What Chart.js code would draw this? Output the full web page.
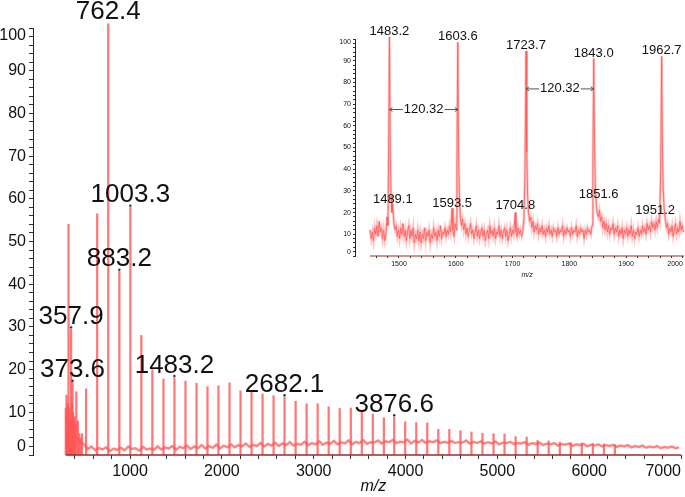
<!DOCTYPE html>
<html>
<head>
<meta charset="utf-8">
<script src="https://cdn.jsdelivr.net/npm/chart.js@4.4.1/dist/chart.umd.min.js"></script>
<style>
  html, body { margin: 0; padding: 0; background: #fff; }
  #wrap { position: relative; width: 685px; height: 497px; }
  #main { position: absolute; left: 0; top: 0; }
  #inset { position: absolute; left: 330px; top: 20px; }
</style>
</head>
<body>
<div id="wrap">
  <canvas id="main" width="685" height="497"></canvas>
  <canvas id="inset" width="355" height="270"></canvas>
</div>
<script>
// ---- full spectrum (m/z 300 - 7000) ----
const mainPeakMz  = [300, 308, 316, 322, 330, 340, 348, 357.9, 366, 373.6, 380, 388, 396, 404, 415, 432, 446, 462, 476, 521,
  642, 762.4, 883.2, 1003.3, 1123, 1243, 1364, 1483.2, 1603.6, 1723.7, 1843, 1962.7, 2083, 2203, 2323, 2443, 2563,
  2682.1, 2803, 2923, 3043, 3163, 3283, 3404, 3524, 3644, 3764, 3876.6, 3996, 4117, 4237, 4357, 4477, 4598, 4718,
  4838, 4958, 5078, 5199, 5319, 5439, 5559, 5680, 5800, 5920, 6040, 6161, 6280];
const mainPeakInt = [11, 14, 9, 12, 54, 11, 8, 29.5, 12, 17, 10, 8, 9, 7, 14.8, 8, 5, 4, 5, 15.5,
  56.5, 101, 43, 58, 28, 20, 17.8, 18.1, 17.3, 16.8, 16, 16.2, 16.9, 15, 14.8, 14.3, 13.9,
  13.6, 12.6, 12, 12, 11.3, 10.9, 11, 10, 9.6, 8.7, 8.9, 7.8, 7.6, 7.5, 6, 6, 5.7, 5.4,
  5.1, 5, 4.9, 4.3, 4.2, 3.4, 3.3, 3, 2.9, 2.8, 2.7, 2.6, 2.4];

// baseline noise, sampled every 40 m/z from 300
const mainNoiseStart = 300, mainNoiseStep = 40;
const mainNoise = [9, 7, 5.5, 4, 3,
  2.5,1.4,2.0,1.1,1.6,1.3,1.8,0.9,1.5,1.2,
  1.7,1.1,2.0,1.4,1.6,1.0,1.9,1.3,1.5,1.2,
  2.0,1.3,1.8,1.5,2.1,1.2,1.9,1.6,2.2,1.4,
  2.0,1.6,2.3,1.5,2.1,1.7,2.4,1.5,2.2,1.8,
  2.5,1.8,2.3,2.0,2.7,1.9,2.4,2.1,2.8,2.0,
  2.6,2.2,2.9,2.1,2.7,2.3,3.0,2.2,2.6,2.4,
  3.1,2.3,2.8,2.5,3.2,2.4,2.9,2.6,3.3,2.5,
  3.0,2.7,3.4,2.5,3.1,2.8,3.5,2.6,3.0,2.9,
  3.4,2.7,3.2,3.0,3.5,2.8,3.1,3.0,3.6,2.7,
  3.3,2.9,3.5,2.8,3.2,3.0,3.4,2.8,3.1,2.9,
  3.3,2.8,3.0,2.9,3.4,2.7,3.1,2.8,3.2,2.7,
  3.0,2.7,3.2,2.5,2.9,2.8,3.1,2.6,2.8,2.7,
  3.0,2.4,2.8,2.6,2.9,2.3,2.7,2.5,2.8,2.2,
  2.6,2.4,2.7,2.1,2.5,2.3,2.6,2.0,2.4,2.2,
  2.5,2.0,2.3,2.1,2.4,1.9,2.2,2.0,2.3,1.8,
  2.1,1.9,2.2,1.7,2.0,1.8,2.1,1.6,1.9,1.7,
  2.0,1.6,1.8];

const mainLabelText = ['762.4', '1003.3', '883.2', '357.9', '373.6', '1483.2', '2682.1', '3876.6'];
const mainLabelMz   = [762.4, 1003.3, 883.2, 357.9, 373.6, 1483.2, 2682.1, 3876.6];
const mainLabelInt  = [101, 58, 43, 29.5, 17, 18.1, 13.6, 8.9];

const mainXTicks = []; for (let v = 400; v <= 7000; v += 200) mainXTicks.push(v);
const mainYTicks = []; for (let v = 0; v <= 100; v += 2) mainYTicks.push(v);

// ---- zoomed inset (m/z 1449 - 2001) ----
const insetSpectrum = [
  [1449,12],[1451,8],[1453,11],[1455,7],[1457,13],[1459,10],[1461,14],[1463,9],[1465,16],[1467,11],[1469,13],[1471,8],
  [1473,12],[1475,7],[1477,10],[1479,18],[1480.5,14],[1481.5,40],[1483.2,101],[1484.5,50],[1486,28],[1487.5,20],[1489,24],
  [1491,15],[1493,12],[1495,14],[1497,9],[1499,12],[1501,8],[1503,13],[1505,10],[1507,15],[1509,9],[1511,12],[1513,7],
  [1515,11],[1517,14],[1519,8],[1521,12],[1523,9],[1525,13],[1527,6],[1529,10],[1531,8],[1533,12],[1535,7],[1537,11],
  [1539,6],[1541,10],[1543,8],[1545,13],[1547,7],[1549,11],[1551,9],[1553,12],[1555,6],[1557,10],[1559,8],[1561,13],
  [1563,9],[1565,11],[1567,7],[1569,12],[1571,9],[1573,14],[1575,8],[1577,11],[1579,10],[1581,13],[1583,9],[1585,12],
  [1587,10],[1589,14],[1591,11],[1593.5,22],[1595,12],[1597,9],[1599,15],[1601,12],[1602,40],[1603.6,98.5],[1605,45],
  [1606.5,26],[1608,18],[1610,14],[1612,17],[1614,12],[1616,15],[1618,10],[1620,13],[1622,9],[1624,12],[1626,15],
  [1628,10],[1630,12],[1632,8],[1634,11],[1636,14],[1638,9],[1640,12],[1642,8],[1644,11],[1646,13],[1648,9],[1650,12],
  [1652,7],[1654,10],[1656,12],[1658,8],[1660,14],[1662,10],[1664,12],[1666,9],[1668,13],[1670,8],[1672,11],[1674,10],
  [1676,14],[1678,9],[1680,12],[1682,8],[1684,11],[1686,13],[1688,9],[1690,12],[1692,7],[1694,10],[1696,13],[1698,9],
  [1700,12],[1702,10],[1704.8,20],[1706,11],[1708,9],[1710,13],[1712,10],[1714,12],[1716,9],[1718,11],[1720,17],
  [1722,40],[1723.7,94.5],[1725,48],[1726.5,28],[1728,20],[1730,16],[1732,18],[1734,13],[1736,16],[1738,11],[1740,14],
  [1742,12],[1744,15],[1746,10],[1748,13],[1750,11],[1752,14],[1754,10],[1756,12],[1758,9],[1760,13],[1762,11],
  [1764,14],[1766,10],[1768,12],[1770,9],[1772,13],[1774,11],[1776,12],[1778,9],[1780,13],[1782,10],[1784,12],
  [1786,11],[1788,14],[1790,9],[1792,12],[1794,10],[1796,13],[1798,11],[1800,12],[1802,9],[1804,13],[1806,10],
  [1808,12],[1810,11],[1812,14],[1814,9],[1816,12],[1818,10],[1820,13],[1822,11],[1824,12],[1826,8],[1828,12],
  [1830,10],[1832,13],[1834,11],[1836,12],[1838,10],[1840,14],[1841.5,40],[1843,91],[1844.5,50],[1846,30],[1847.5,24],
  [1849,20],[1851,18],[1853,21],[1855,16],[1857,18],[1859,13],[1861,16],[1863,12],[1865,15],[1867,11],[1869,14],
  [1871,10],[1873,13],[1875,12],[1877,15],[1879,10],[1881,13],[1883,11],[1885,14],[1887,9],[1889,12],[1891,10],
  [1893,13],[1895,8],[1897,12],[1899,10],[1901,13],[1903,9],[1905,12],[1907,10],[1909,14],[1911,9],[1913,12],
  [1915,8],[1917,11],[1919,10],[1921,13],[1923,9],[1925,12],[1927,10],[1929,14],[1931,11],[1933,13],[1935,10],
  [1937,15],[1939,12],[1941,14],[1943,11],[1945,16],[1947,13],[1949,15],[1951,12],[1953,16],[1955,13],[1957,17],
  [1959,15],[1961,40],[1962.7,92],[1964,50],[1965.5,30],[1967,22],[1969,17],[1971,13],[1973,15],[1975,10],[1977,13],
  [1979,11],[1981,14],[1983,9],[1985,12],[1987,15],[1989,10],[1991,13],[1993,11],[1995,16],[1997,12],[1999,14],[2001,11]
];

const insetLabelText = ['1483.2', '1603.6', '1723.7', '1843.0', '1962.7', '1489.1', '1593.5', '1704.8', '1851.6', '1951.2'];
const insetLabelMz   = [1483.2, 1603.6, 1723.7, 1843.0, 1962.7, 1489.1, 1593.5, 1704.8, 1851.6, 1951.2];
const insetLabelInt  = [101, 98.5, 94.5, 91, 92, 23.7, 21.8, 20.9, 26, 18.6];

// peak spacing markers
const gapFrom = [1483.2, 1723.7];
const gapTo   = [1603.6, 1843.0];
const gapAt   = [67.5, 77];
const gapText = ['120.32', '120.32'];

const insetXTicks = []; for (let v = 1460; v <= 2000; v += 20) insetXTicks.push(v);
const insetYTicks = mainYTicks;

const FONT = '"Liberation Sans", Arial, sans-serif';

// draws the detached x axis line, its title, the end labels of y and the peak annotations
function overlay(o) {
  return {
    id: 'overlay',
    afterDatasetsDraw(chart) {
      const { ctx, chartArea } = chart;
      const xs = chart.scales.x, ys = chart.scales.y;
      ctx.save();
      const x0 = xs.getPixelForValue(o.axisFrom);
      ctx.strokeStyle = '#8e2f2f'; ctx.lineWidth = o.axisWidth;
      ctx.beginPath(); ctx.moveTo(x0, chartArea.bottom); ctx.lineTo(chartArea.right, chartArea.bottom); ctx.stroke();

      ctx.fillStyle = '#111';
      ctx.textAlign = 'center'; ctx.textBaseline = 'alphabetic';
      ctx.font = 'italic ' + o.titleSize + 'px ' + FONT;
      ctx.fillText('m/z', (x0 + chartArea.right) / 2, chartArea.bottom + o.titleDrop);

      // 0 and 100 sit pulled inside the axis span
      ctx.font = o.tickSize + 'px ' + FONT;
      ctx.textAlign = 'right'; ctx.textBaseline = 'middle';
      const lx = chartArea.left - o.tickLen - o.tickPad;
      ctx.fillText('100', lx, ys.getPixelForValue(100) + o.endNudge);
      ctx.fillText('0', lx, ys.getPixelForValue(0) - o.endNudge);

      ctx.textAlign = 'center'; ctx.textBaseline = 'alphabetic';
      ctx.font = o.labelSize + 'px ' + FONT;
      o.text.forEach((t, i) => {
        ctx.fillText(t, xs.getPixelForValue(o.mz[i]), ys.getPixelForValue(o.int[i]) - o.labelGap);
      });

      (o.gaps || []).forEach(g => {
        const x1 = xs.getPixelForValue(g.from), x2 = xs.getPixelForValue(g.to), y = ys.getPixelForValue(g.at);
        const xc = (x1 + x2) / 2, w = ctx.measureText(g.text).width;
        ctx.textBaseline = 'middle';
        ctx.fillText(g.text, xc, y);
        ctx.strokeStyle = '#555'; ctx.lineWidth = 1;
        ctx.beginPath();
        ctx.moveTo(x1, y); ctx.lineTo(xc - w / 2 - 1, y);
        ctx.moveTo(xc + w / 2 + 1, y); ctx.lineTo(x2, y);
        ctx.moveTo(x1 + 3, y - 2); ctx.lineTo(x1, y); ctx.lineTo(x1 + 3, y + 2);
        ctx.moveTo(x2 - 3, y - 2); ctx.lineTo(x2, y); ctx.lineTo(x2 - 3, y + 2);
        ctx.stroke();
      });
      ctx.restore();
    }
  };
}

function axes(o) {
  return {
    x: {
      type: 'linear', min: o.xMin, max: o.xMax, offset: false,
      border: { display: false },
      grid: { offset: false, drawOnChartArea: false, drawTicks: true, tickLength: o.tick, tickColor: '#333' },
      afterBuildTicks: s => { s.ticks = o.xTicks.map(v => ({ value: v })); },
      afterFit: s => { s.height = o.xHeight; },
      ticks: {
        autoSkip: false, maxRotation: 0, align: 'inner', padding: o.pad, color: '#111',
        font: { family: FONT, size: o.font },
        callback: v => (v % o.xMajor === 0 ? String(v) : '')
      }
    },
    y: {
      type: 'linear', min: 0, max: 100,
      border: { display: true, color: '#222', width: 1 },
      grid: { drawOnChartArea: false, drawTicks: true, tickLength: o.tick, tickColor: '#333' },
      afterBuildTicks: s => { s.ticks = o.yTicks.map(v => ({ value: v })); },
      afterFit: s => { s.width = o.yWidth; },
      ticks: {
        autoSkip: false, padding: o.pad, color: '#111',
        font: { family: FONT, size: o.font },
        callback: v => (v % 10 === 0 && v !== 0 && v !== 100 ? String(v) : '')
      }
    }
  };
}

new Chart(document.getElementById('main'), {
  type: 'bar',
  data: {
    datasets: [
      {
        type: 'line', order: 0, showLine: false, clip: false,
        data: mainLabelMz.map((m, i) => ({ x: m, y: mainLabelInt[i] + 0.4 })),
        pointRadius: 1.2, pointBackgroundColor: '#333', pointBorderWidth: 0
      },
      {
        type: 'bar', order: 1, clip: false, grouped: false,
        data: mainPeakMz.map((m, i) => ({ x: m, y: mainPeakInt[i] })),
        backgroundColor: 'rgba(255,85,85,0.8)', barThickness: 1.6
      },
      {
        type: 'line', order: 2,
        data: mainNoise.map((v, i) => ({ x: mainNoiseStart + i * mainNoiseStep, y: v })),
        borderColor: 'rgba(255,100,100,0.8)', borderWidth: 2.4, pointRadius: 0, tension: 0
      }
    ]
  },
  options: {
    responsive: false, animation: false, events: [],
    layout: { padding: { top: 28, right: 4, left: 0, bottom: 0 } },
    plugins: { legend: { display: false }, tooltip: { enabled: false } },
    scales: axes({ xMin: -57, xMax: 7000, xTicks: mainXTicks, xMajor: 1000, yTicks: mainYTicks,
      tick: 4, pad: 3, font: 16, xHeight: 42, yWidth: 33 })
  },
  plugins: [overlay({ axisFrom: 300, axisWidth: 1.5, titleSize: 16, titleDrop: 36,
    tickSize: 16, tickLen: 4, tickPad: 3, endNudge: 8,
    text: mainLabelText, mz: mainLabelMz, int: mainLabelInt, labelSize: 26, labelGap: 5 })]
});

const insetData = insetSpectrum.map(p => ({ x: p[0], y: p[1] }));
new Chart(document.getElementById('inset'), {
  type: 'line',
  data: {
    datasets: [
      { data: insetData, order: 1, clip: false, borderColor: '#ff5858', borderWidth: 0.8, pointRadius: 0, tension: 0 },
      { data: insetData, order: 2, clip: false, borderColor: 'rgba(255,170,170,0.7)', borderWidth: 2.5, pointRadius: 0, tension: 0 }
    ]
  },
  options: {
    responsive: false, animation: false, events: [],
    layout: { padding: { top: 19, right: 1, left: 0, bottom: 0 } },
    plugins: { legend: { display: false }, tooltip: { enabled: false } },
    scales: axes({ xMin: 1422.5, xMax: 2002, xTicks: insetXTicks, xMajor: 100, yTicks: insetYTicks,
      tick: 2, pad: 2, font: 7, xHeight: 34, yWidth: 25 })
  },
  plugins: [overlay({ axisFrom: 1449, axisWidth: 1.2, titleSize: 7, titleDrop: 21,
    tickSize: 7, tickLen: 2, tickPad: 2, endNudge: 3.5,
    text: insetLabelText, mz: insetLabelMz, int: insetLabelInt, labelSize: 13, labelGap: 2,
    gaps: gapFrom.map((f, i) => ({ from: f, to: gapTo[i], at: gapAt[i], text: gapText[i] })) })]
});
</script>
</body>
</html>
